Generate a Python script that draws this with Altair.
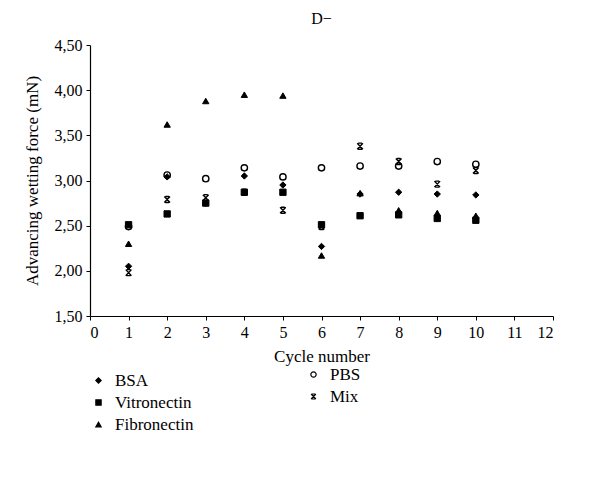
import altair as alt
import pandas as pd

cycles = [1, 2, 3, 4, 5, 6, 7, 8, 9, 10]
bsa = [2.05, 3.04, 2.75, 3.05, 2.95, 2.27, 2.85, 2.87, 2.85, 2.84]
vitronectin = [2.51, 2.63, 2.75, 2.87, 2.87, 2.51, 2.61, 2.62, 2.58, 2.56]
fibronectin = [2.30, 3.62, 3.88, 3.95, 3.94, 2.17, 2.86, 2.67, 2.64, 2.61]
pbs = [2.49, 3.06, 3.02, 3.14, 3.04, 3.14, 3.16, 3.16, 3.21, 3.18]
mix = [1.98, 2.79, 2.81, 2.87, 2.67, 2.49, 3.38, 3.21, 2.96, 3.11]

x_ticks = list(range(13))
y_ticks = [1.5, 2.0, 2.5, 3.0, 3.5, 4.0, 4.5]

series_a = {"BSA": bsa, "Vitronectin": vitronectin, "Fibronectin": fibronectin}
series_b = {"PBS": pbs, "Mix": mix}

rows = []
for name, vals in list(series_b.items()) + list(series_a.items()):
    for c, v in zip(cycles, vals):
        rows.append({"cycle": c, "value": v, "series": name})
df = pd.DataFrame(rows)

FONT = "Liberation Serif"
MIX_PATH = "M-0.9,-0.95L0.9,0.95M0.9,-0.95L-0.9,0.95M-0.6,-0.95L0.6,-0.95M-0.6,0.95L0.6,0.95"

x_enc = alt.X(
    "cycle:Q",
    scale=alt.Scale(domain=[0, 12], nice=False),
    axis=alt.Axis(values=x_ticks, title="Cycle number", format="d",
                  labelFontSize=16, titleFontSize=17, titlePadding=8,
                  labelPadding=4, tickSize=4),
)
y_enc = alt.Y(
    "value:Q",
    scale=alt.Scale(domain=[1.5, 4.5], nice=False, zero=False),
    axis=alt.Axis(values=y_ticks, title="Advancing wetting force (mN)",
                  labelExpr="replace(format(datum.value, '.2f'), '.', ',')",
                  labelFontSize=16, titleFontSize=17, titlePadding=13,
                  labelPadding=4, tickSize=4),
)


def legend(lx, ly):
    return alt.Legend(title=None, orient="none", legendX=lx, legendY=ly,
                      labelFont=FONT, labelFontSize=17, labelColor="black",
                      symbolSize=28, symbolStrokeWidth=1.2, symbolOpacity=1,
                      rowPadding=4, labelOffset=8, padding=0)


base = alt.Chart(df)

dom_b = list(series_b.keys())
layer_b = base.transform_filter(
    alt.FieldOneOfPredicate(field="series", oneOf=dom_b)
).mark_point(strokeWidth=1.4, filled=True, opacity=1, size=40).encode(
    x=x_enc,
    y=y_enc,
    shape=alt.Shape("series:N",
                    scale=alt.Scale(domain=dom_b, range=["circle", MIX_PATH]),
                    legend=legend(215, 321)),
    fill=alt.Fill("series:N",
                  scale=alt.Scale(domain=dom_b, range=["white", "white"]),
                  legend=legend(215, 321)),
    stroke=alt.Stroke("series:N",
                      scale=alt.Scale(domain=dom_b, range=["black", "black"]),
                      legend=legend(215, 321)),
)

dom_a = list(series_a.keys())
layer_a = base.transform_filter(
    alt.FieldOneOfPredicate(field="series", oneOf=dom_a)
).mark_point(strokeWidth=1, filled=True, opacity=1, size=40).encode(
    x=x_enc,
    y=y_enc,
    shape=alt.Shape("series:N",
                    scale=alt.Scale(domain=dom_a,
                                    range=["diamond", "square", "triangle-up"]),
                    legend=legend(0, 327)),
    fill=alt.Fill("series:N",
                  scale=alt.Scale(domain=dom_a, range=["black", "black", "black"]),
                  legend=legend(0, 327)),
    stroke=alt.Stroke("series:N",
                      scale=alt.Scale(domain=dom_a, range=["black", "black", "black"]),
                      legend=legend(0, 327)),
)

chart = alt.layer(layer_b, layer_a).resolve_scale(
    shape="independent", fill="independent", stroke="independent"
).properties(
    width=463,
    height=271,
    title=alt.TitleParams("D\u2212", font=FONT, fontSize=16, fontWeight="normal",
                          color="black", anchor="middle", offset=10),
    autosize=alt.AutoSizeParams(type="none"),
    padding={"left": 82, "top": 37, "right": 30, "bottom": 140},
    background="white",
).configure_view(stroke=None).configure_axis(
    grid=False, domainColor="black", tickColor="black", labelColor="black",
    titleColor="black", labelFont=FONT, titleFont=FONT, titleFontWeight="normal",
    domainWidth=1.2,
)

chart.save("out.html", embed_options={"renderer": "svg", "actions": False})
